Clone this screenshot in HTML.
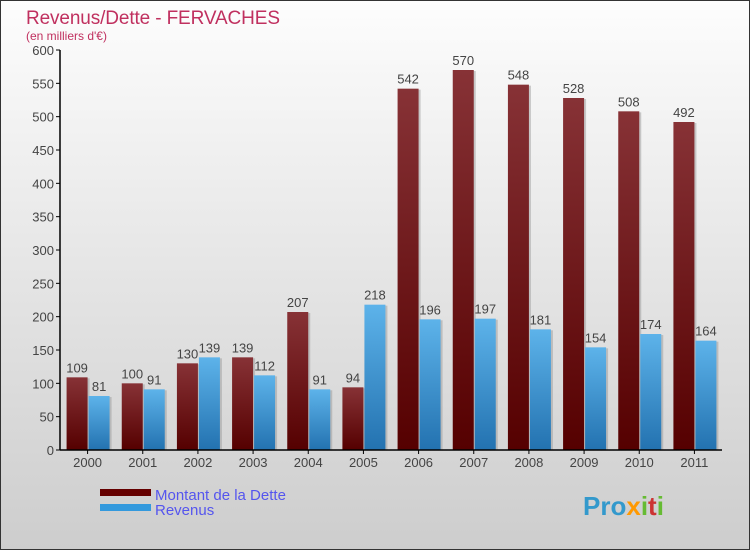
<!DOCTYPE html>
<html><head><meta charset="utf-8"><style>
body{margin:0;width:750px;height:550px;overflow:hidden;font-family:"Liberation Sans",sans-serif}
</style></head><body>
<svg id="c" width="750" height="550" xmlns="http://www.w3.org/2000/svg">
<defs>
<linearGradient id="bg" x1="0" y1="0" x2="0" y2="1"><stop offset="0" stop-color="#fdfdfd"/><stop offset="1" stop-color="#cdcdcd"/></linearGradient>
<linearGradient id="gd" x1="0" y1="0" x2="0" y2="1"><stop offset="0" stop-color="#873236"/><stop offset="1" stop-color="#550000"/></linearGradient>
<linearGradient id="gr" x1="0" y1="0" x2="0" y2="1"><stop offset="0" stop-color="#5db3ea"/><stop offset="1" stop-color="#2372b0"/></linearGradient>
</defs>
<rect x="0.5" y="0.5" width="749" height="549" fill="url(#bg)" stroke="#333"/>
<text x="26" y="24" font-size="19" textLength="254" fill="#c0305f">Revenus/Dette - FERVACHES</text>
<text x="26" y="40" font-size="12" fill="#c0305f">(en milliers d'€)</text>
<g id="plot"></g>
<rect x="100" y="489" width="51" height="7" fill="#650000"/>
<rect x="100" y="504" width="51" height="7" fill="#3399dd"/>
<text x="155" y="500" font-size="15" fill="#5555ee">Montant de la Dette</text>
<text x="155" y="515" font-size="15" fill="#5555ee">Revenus</text>
<text x="583" y="515" font-size="26" font-weight="bold" fill="#3399cc">Pro<tspan fill="#ff9900">x</tspan><tspan fill="#66bb33">i</tspan><tspan fill="#cc3333">t</tspan><tspan fill="#66bb33">i</tspan></text>
</svg>
<script>
const years=["2000","2001","2002","2003","2004","2005","2006","2007","2008","2009","2010","2011"];
const dette=[109,100,130,139,207,94,542,570,548,528,508,492];
const revenus=[81,91,139,112,91,218,196,197,181,154,174,164];
const yTicks=[0,50,100,150,200,250,300,350,400,450,500,550,600];
const NS="http://www.w3.org/2000/svg";
const g=document.getElementById('plot');
const x0=60,x1=722,y0=450,yTop=50,yMax=600;
const gw=(x1-x0)/years.length;
const y=v=>y0-(v/yMax)*(y0-yTop);
const cx=i=>x0+gw*(i+0.5);
function mk(t,a){const e=document.createElementNS(NS,t);for(const k in a)e.setAttribute(k,a[k]);g.appendChild(e);return e;}
yTicks.forEach(v=>{
 const l=mk('line',{x1:x0-4,x2:x0,y1:y(v),y2:y(v),stroke:'#000'});
 
 
 const t=mk('text',{x:x0-6,y:y(v)+5,'font-size':13,fill:'#444','text-anchor':'end'});t.textContent=v;
 
 
});
years.forEach((yr,i)=>{
 const c=cx(i);
 [[dette[i],c-21,'url(#gd)','bar-dette'],[revenus[i],c+1,'url(#gr)','bar-revenus']].forEach(([v,bx,f,n])=>{
  const s=mk('rect',{x:bx+2,y:y(v)+1,width:21,height:y0-y(v)-1,fill:'#999',opacity:0.5});
  
  
  const r=mk('rect',{x:bx,y:y(v),width:21,height:y0-y(v),fill:f});
  
  
  const t=mk('text',{x:bx+10.5,y:y(v)-5,'font-size':13,fill:'#444','text-anchor':'middle'});t.textContent=v;
  
  
 });
 const tk=mk('line',{x1:c,x2:c,y1:y0,y2:y0+4,stroke:'#000'});
 
 
 const t=mk('text',{x:c,y:y0+17,'font-size':13,fill:'#444','text-anchor':'middle'});t.textContent=yr;
 
 
});
const ya=mk('line',{x1:x0,x2:x0,y1:yTop,y2:y0,stroke:'#000','stroke-width':1.5});


const xa=mk('line',{x1:x0,x2:x1,y1:y0,y2:y0,stroke:'#000','stroke-width':1.5});


</script>
</body></html>
